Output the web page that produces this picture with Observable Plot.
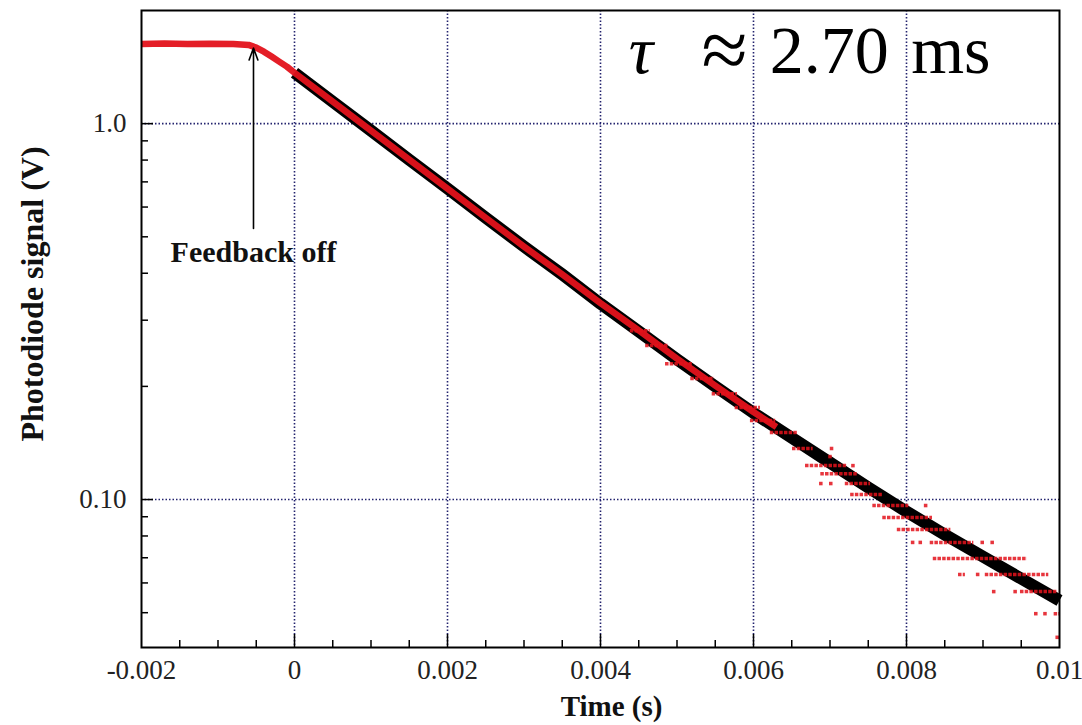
<!DOCTYPE html>
<html>
<head>
<meta charset="utf-8">
<script src="https://cdn.jsdelivr.net/npm/d3@7"></script>
<script src="https://cdn.jsdelivr.net/npm/@observablehq/plot@0.6"></script>
<style>
  html, body { margin: 0; padding: 0; background: #fff; }
  #chart svg { display: block; }
</style>
</head>
<body>
<div id="chart"></div>
<script>
// ---- Data ----
// Fitted exponential decay (black band)
const fitTime   = [0, 0.0005, 0.001, 0.0015, 0.002, 0.0025, 0.003, 0.0035, 0.004, 0.0045, 0.005,
                   0.0055, 0.006, 0.0065, 0.007, 0.0075, 0.008, 0.0085, 0.009, 0.0095, 0.01];
const fitSignal = [1.366, 1.144, 0.958, 0.802, 0.672, 0.562, 0.471, 0.397, 0.332, 0.280, 0.236,
                   0.200, 0.170, 0.146, 0.1254, 0.1076, 0.0929, 0.0807, 0.0705, 0.0616, 0.0539];

// Measured photodiode trace (red), plateau then decay
const redTime   = [-0.002, -0.0017, -0.0014, -0.0011, -0.0008, -0.0006, -0.0005, -0.0004, -0.0003,
                   -0.0002, -0.0001, 0, 0.0005, 0.001, 0.0015, 0.002, 0.0025, 0.003, 0.0035, 0.004,
                   0.0045, 0.005, 0.0055, 0.006, 0.0063];
const redSignal = [1.630, 1.633, 1.628, 1.632, 1.630, 1.620, 1.593, 1.554, 1.508,
                   1.462, 1.418, 1.366, 1.144, 0.958, 0.802, 0.672, 0.562, 0.471, 0.397, 0.333,
                   0.282, 0.237, 0.201, 0.171, 0.156];

// Digitised (quantised) red samples at late times: runs of samples at one level
const runStart = [0.00439, 0.00459, 0.00485, 0.00518, 0.00546, 0.00576, 0.00596, 0.00622, 0.00651,
                  0.00668, 0.00688, 0.00720, 0.00727, 0.00756, 0.00769, 0.00788, 0.00831, 0.00835,
                  0.00868, 0.00903, 0.00949, 0.00993];
const runEnd   = [0.00465, 0.00489, 0.00520, 0.00549, 0.00579, 0.00609, 0.00629, 0.00658, 0.00678,
                  0.00723, 0.00736, 0.00753, 0.00770, 0.00803, 0.00834, 0.00858, 0.00888, 0.00958,
                  0.00877, 0.00986, 0.00997, 0.01];
const runLevel = [0.2814, 0.2568, 0.2299, 0.2098, 0.1913, 0.1757, 0.1622, 0.1508, 0.1367,
                  0.1231, 0.1172, 0.1103, 0.1031, 0.0964, 0.0896, 0.0832, 0.0769, 0.0697,
                  0.0632, 0.0632, 0.0569, 0.0497];
// isolated red samples
const singleTime  = [0.00702, 0.00700, 0.00730, 0.00688, 0.00701, 0.00825, 0.00808, 0.00818, 0.00899,
                     0.00912, 0.00893, 0.00914, 0.00942, 0.00969, 0.00981, 0.00997];
const singleLevel = [0.1367, 0.1301, 0.1231, 0.1103, 0.1103, 0.0964, 0.0769, 0.0769, 0.0769,
                     0.0769, 0.0632, 0.0569, 0.0569, 0.0497, 0.0497, 0.0430];

// Axes
const xTickValues = [-0.002, 0, 0.002, 0.004, 0.006, 0.008, 0.01];
const xTickLabels = ["-0.002", "0", "0.002", "0.004", "0.006", "0.008", "0.01"];
const xMinorTicks = [-0.0015, -0.001, -0.0005, 0.0005, 0.001, 0.0015, 0.0025, 0.003, 0.0035,
                     0.0045, 0.005, 0.0055, 0.0065, 0.007, 0.0075, 0.0085, 0.009, 0.0095];
const xGrid = [0, 0.002, 0.004, 0.006, 0.008];
const yTickValues = [1.0, 0.1];
const yTickLabels = ["1.0", "0.10"];
const yMinorTicks = [0.05, 0.06, 0.07, 0.08, 0.09, 0.2, 0.3, 0.4, 0.5, 0.6, 0.7, 0.8, 0.9];
const yGrid = [1.0, 0.1];

const xLabel = "Time (s)";
const yLabel = "Photodiode signal (V)";
const annotation = "Feedback off";
const annotationTime = -0.000536, annotationSignal = 0.454;
const arrowFrom = {t: -0.000536, v: 0.526};
const arrowTo   = {t: -0.000536, v: 1.59};
const tauSymbol = [{text: "τ", t: 0.004530}];
const tauApprox = [{text: "≈", t: 0.005621}];
const tauRest = [
  {text: "2.70", t: 0.006990},
  {text: "ms", t: 0.008580}
];
const tauSignal = 1.56;

// ---- Build tables ----
const fit = fitTime.map((t, i) => ({t, v: fitSignal[i]}));
const red = redTime.map((t, i) => ({t, v: redSignal[i]}));
const runs = runStart.map((t1, i) => ({t1, t2: runEnd[i], v: runLevel[i]}));
const singles = singleTime.map((t, i) => ({t, v: singleLevel[i]}));

const RED = "#e3121b";
const GRID = "#23236e";
const FONT = "'Liberation Serif', 'Times New Roman', serif";

const chart = Plot.plot({
  width: 1082,
  height: 725,
  marginLeft: 141,
  marginRight: 23,
  marginTop: 10,
  marginBottom: 78,
  style: {fontFamily: FONT, background: "white", color: "#111"},
  x: {domain: [-0.002, 0.01], axis: null},
  y: {type: "log", domain: [0.0404, 2.0], axis: null},
  marks: [
    Plot.ruleX(xGrid, {x: d => d, stroke: GRID, strokeWidth: 1.6, strokeDasharray: "1.5,2"}),
    Plot.ruleY(yGrid, {y: d => d, stroke: GRID, strokeWidth: 1.6, strokeDasharray: "1.5,2"}),
    // black fitted band
    Plot.line(fit, {x: "t", y: "v", stroke: "#000", strokeWidth: 12, strokeLinecap: "butt"}),
    // red measured trace
    Plot.line(red, {x: "t", y: "v", stroke: RED, strokeWidth: 6.5, strokeLinecap: "butt", strokeOpacity: 0.95}),
    Plot.ruleY(runs, {y: "v", x1: "t1", x2: "t2", stroke: RED, strokeWidth: 3.5, strokeDasharray: "3.5,1.2", strokeOpacity: 0.85}),
    Plot.dot(singles, {x: "t", y: "v", symbol: "square", r: 2, fill: RED, fillOpacity: 0.85}),
    // annotation arrow
    Plot.arrow([{x1: arrowFrom.t, y1: arrowFrom.v, x2: arrowTo.t, y2: arrowTo.v}],
      {x1: "x1", y1: "y1", x2: "x2", y2: "y2", stroke: "#000", strokeWidth: 1.6, headLength: 12, headAngle: 40}),
    Plot.text([annotation], {x: annotationTime, y: annotationSignal, text: d => d,
      fontSize: 30, fontWeight: "bold", textAnchor: "middle", fill: "#111"}),
    // tau label
    Plot.text(tauSymbol, {x: "t", y: tauSignal, text: "text", fontSize: 68, textAnchor: "middle",
      fontStyle: "italic", fill: "#000"}),
    Plot.text(tauApprox, {x: "t", y: tauSignal, text: "text", fontSize: 84, textAnchor: "middle", fill: "#000"}),
    Plot.text(tauRest, {x: "t", y: tauSignal, text: "text", fontSize: 68, textAnchor: "middle", fill: "#000"}),
    // ticks (inward)
    Plot.tickX(xMinorTicks, {x: d => d, insetTop: 630, stroke: "#000", strokeWidth: 1.5}),
    Plot.tickX(xGrid, {x: d => d, insetTop: 624, stroke: "#000", strokeWidth: 1.5}),
    Plot.tickY(yMinorTicks, {y: d => d, insetRight: 911, stroke: "#000", strokeWidth: 1.5}),
    Plot.tickY(yGrid, {y: d => d, insetRight: 906, stroke: "#000", strokeWidth: 1.5}),
    Plot.frame({stroke: "#000", strokeWidth: 2}),
    // tick labels
    Plot.text(xTickValues, {x: d => d, text: (d, i) => xTickLabels[i], frameAnchor: "bottom",
      lineAnchor: "top", dy: 12, fontSize: 27, fill: "#222"}),
    Plot.text(yTickValues, {y: d => d, text: (d, i) => yTickLabels[i], frameAnchor: "left",
      textAnchor: "end", dx: -15, fontSize: 27, fill: "#222"}),
    // axis titles
    Plot.text([xLabel], {frameAnchor: "bottom", text: d => d, lineAnchor: "top", dy: 48, dx: 11,
      fontSize: 29, fontWeight: "bold", fill: "#111"}),
    Plot.text([yLabel], {frameAnchor: "left", text: d => d, rotate: -90, textAnchor: "middle",
      dx: -109, dy: -35, fontSize: 32, fontWeight: "bold", fill: "#111"})
  ]
});
document.getElementById("chart").appendChild(chart);
</script>
</body>
</html>
